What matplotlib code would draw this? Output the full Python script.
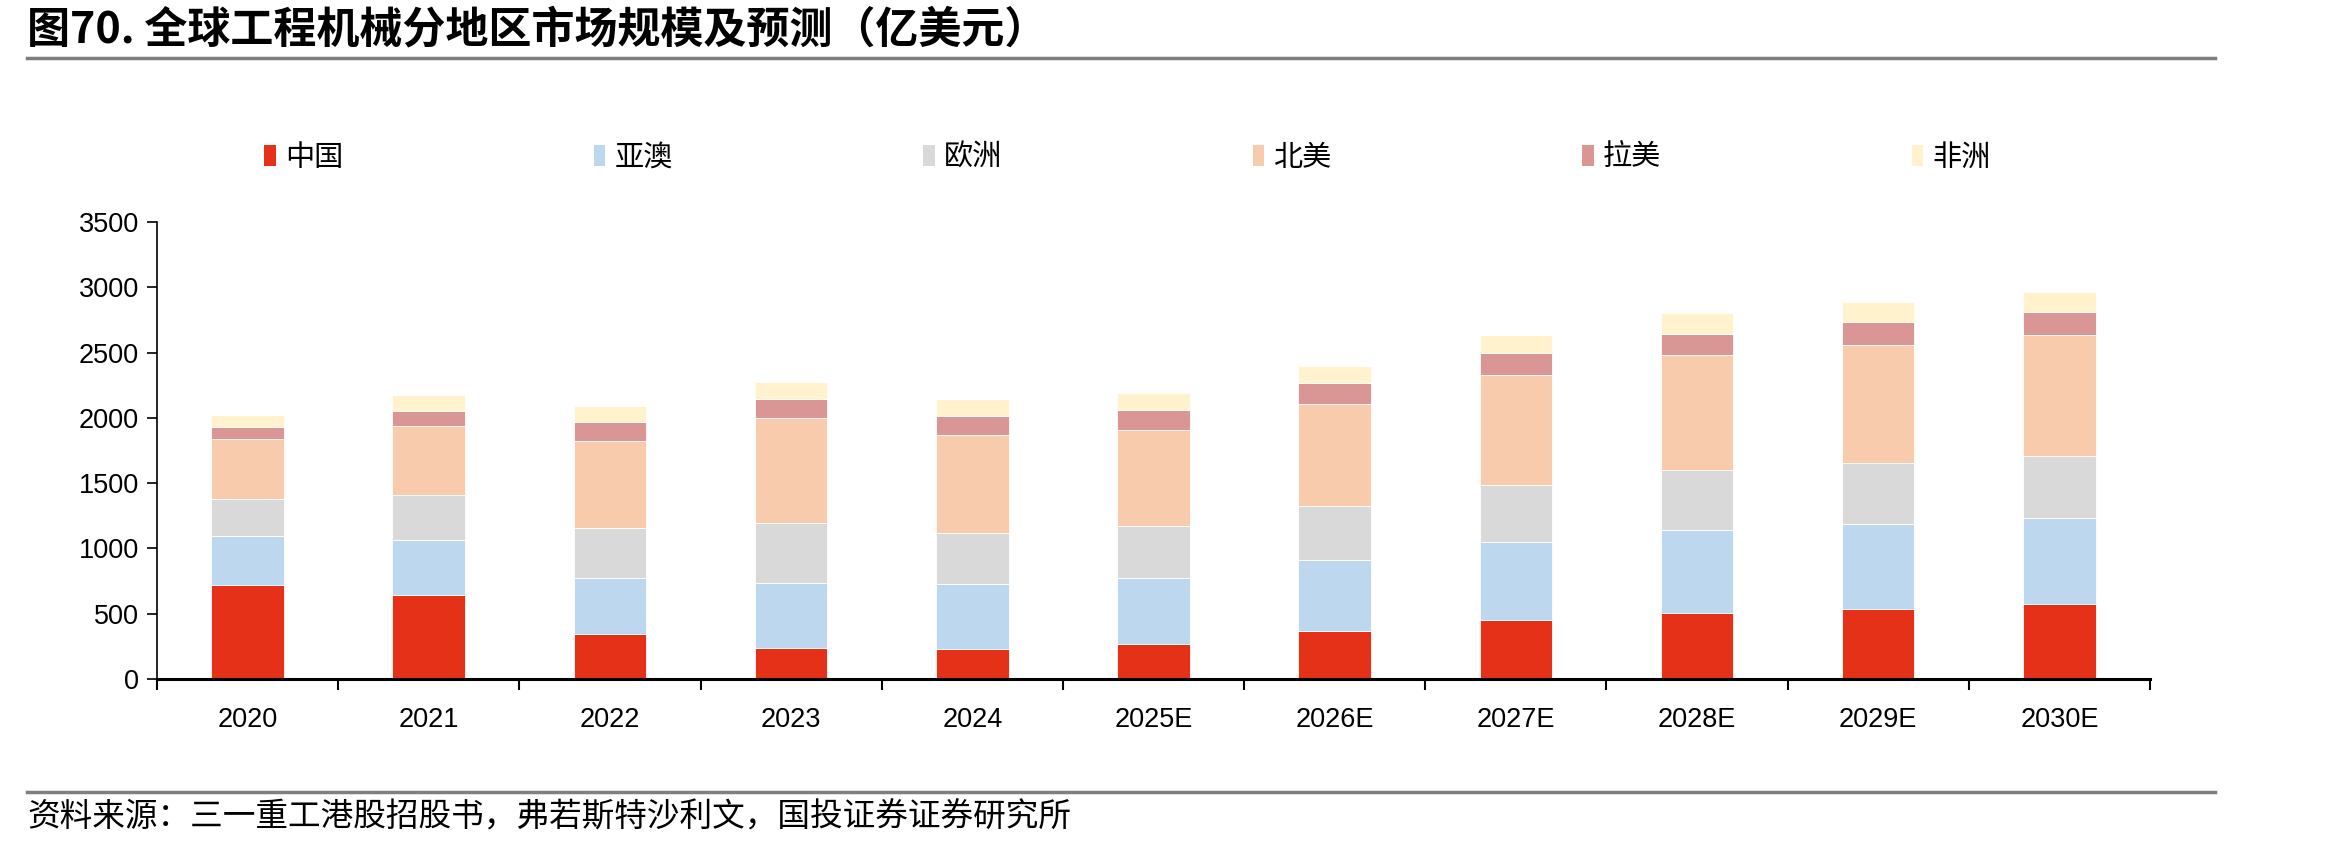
import matplotlib
matplotlib.use("Agg")
import matplotlib.pyplot as plt
import numpy as np
from matplotlib.patches import Rectangle
from matplotlib.lines import Line2D

plt.rcParams['font.family'] = ['Liberation Sans', 'Noto Sans CJK SC', 'DejaVu Sans']

# 数据（亿美元）
years = ['2020', '2021', '2022', '2023', '2024', '2025E', '2026E', '2027E', '2028E', '2029E', '2030E']
regions = ['中国', '亚澳', '欧洲', '北美', '拉美', '非洲']
china = [721, 645, 347, 240, 232, 268, 365, 451, 505, 535, 571]
asia_aus = [375, 421, 425, 497, 492, 505, 550, 602, 637, 655, 663]
europe = [283, 344, 383, 458, 395, 395, 408, 436, 456, 467, 471]
north_am = [456, 525, 665, 801, 747, 739, 785, 841, 882, 902, 928]
latin_am = [95, 117, 145, 145, 148, 151, 158, 166, 166, 174, 176]
africa = [89, 120, 128, 133, 127, 135, 135, 140, 155, 155, 158]
colors = ['#E53118', '#BDD7EE', '#D9D9D9', '#F8CBAD', '#DA9694', '#FFF2CC']

series = [china, asia_aus, europe, north_am, latin_am, africa]

fig = plt.figure(figsize=(23.39, 8.48), dpi=100)
ax = fig.add_axes([0.0671, 0.1993, 0.8521, 0.5389])

x = np.arange(len(years))
bottom = np.zeros(len(years))
for vals, c in zip(series, colors):
    ax.bar(x, vals, width=0.4, bottom=bottom, color=c, edgecolor='white', linewidth=0.6)
    bottom += np.array(vals)

ax.set_xlim(-0.5, len(years) - 0.5)
ax.set_ylim(0, 3500)
ax.set_yticks(range(0, 3501, 500))
ax.tick_params(axis='y', labelsize=19.5, length=7, width=1.2, direction='out', pad=6)
ax.set_xticks(x)
ax.set_xticklabels(years)
ax.tick_params(axis='x', which='major', length=0, labelsize=19.5, pad=20)
ax.set_xticks(np.arange(-0.5, len(years)), minor=True)
ax.tick_params(axis='x', which='minor', length=8, width=1.5, direction='out')

for s in ['top', 'right']:
    ax.spines[s].set_visible(False)
ax.spines['left'].set_linewidth(1.2)
ax.spines['bottom'].set_linewidth(2.2)

handles = [Rectangle((0, 0), 1, 1, facecolor=c, edgecolor='none') for c in colors]
fig.legend(handles, regions, loc='center', bbox_to_anchor=(0.482, 0.814), ncol=6,
           frameon=False, handlelength=0.4, handleheight=0.7,
           handletextpad=0.3, columnspacing=8.6,
           prop={'family': ['Noto Sans CJK SC', 'DejaVu Sans'], 'size': 21})

# 标题与来源
fig.text(0.0115, 0.965, '图70. 全球工程机械分地区市场规模及预测（亿美元）', fontsize=31,
         fontweight='bold', family=['Noto Sans CJK SC', 'DejaVu Sans'], va='center', ha='left')
fig.add_artist(Line2D([0.0115, 0.947], [0.932, 0.932], color='#7F7F7F', linewidth=2.5))
fig.add_artist(Line2D([0.0115, 0.947], [0.066, 0.066], color='#7F7F7F', linewidth=2.5))
fig.text(0.0115, 0.036, '资料来源：三一重工港股招股书，弗若斯特沙利文，国投证券证券研究所', fontsize=23.5,
         style='italic', family=['Noto Sans CJK SC', 'DejaVu Sans'], va='center', ha='left')

fig.savefig('out.png', dpi=100)
